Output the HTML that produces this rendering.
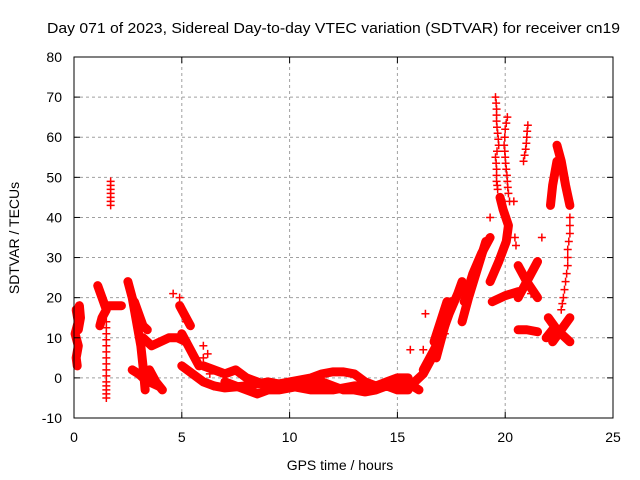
<!DOCTYPE html>
<html><head><meta charset="utf-8"><style>
body{margin:0;background:#fff}
svg{display:block;font-family:"Liberation Sans",sans-serif}
</style></head><body>
<svg id="chart" width="640" height="480" viewBox="0 0 640 480" xmlns="http://www.w3.org/2000/svg">
<rect width="640" height="480" fill="#fff"/>
<text x="47" y="33" font-size="15" textLength="573" lengthAdjust="spacingAndGlyphs">Day 071 of 2023, Sidereal Day-to-day VTEC variation (SDTVAR) for receiver cn19</text>
<text x="340" y="470" font-size="14" text-anchor="middle">GPS time / hours</text>
<text x="0" y="0" font-size="14" text-anchor="middle" transform="translate(19,238) rotate(-90)">SDTVAR / TECUs</text>
<g id="grid"></g><g id="marks"></g><g id="axes"></g>
</svg>
<script>
const xTicks=[0,5,10,15,20,25];
const yTicks=[-10,0,10,20,30,40,50,60,70,80];
const thickTracks=[
[[0.1,17],[0.2,14],[0.05,11],[0.2,8],[0.1,5],[0.15,3]],
[[0.25,18],[0.3,15],[0.2,12]],
[[1.1,23],[1.3,20],[1.5,17],[1.3,15],[1.2,13]],
[[1.6,18],[1.9,18],[2.2,18]],
[[2.5,24],[2.7,20],[2.9,14],[3.1,8],[3.2,3],[3.3,-3]],
[[2.8,19],[3.0,16],[3.2,13],[3.4,12]],
[[2.7,2],[3.0,1],[3.2,0],[3.5,-1],[3.9,-2]],
[[3.2,10],[3.6,8],[4.0,9],[4.4,10],[4.8,10],[5.2,9]],
[[3.5,2],[3.8,-1],[4.1,-3]],
[[4.9,18],[5.1,16],[5.4,13]],
[[5.0,11],[5.3,8],[5.6,5],[5.8,3]],
[[5.0,3],[5.5,1],[6.0,-1],[6.5,-2]],
[[6.0,3],[6.5,2],[7.0,1],[7.5,2],[8.0,0],[8.5,-1],[9,-2],[10,-1],[11,0],[11.5,1],[12,1.5],[12.5,1.5],[13,1],[13.5,-1],[14,-2],[14.5,-1],[15,0],[15.5,0]],
[[7,-1],[7.5,-2],[8,-3],[8.5,-4],[9,-3],[9.5,-3],[10,-2.5],[10.5,-2],[11,-1.5],[11.5,-1],[12,-2],[12.5,-3],[13,-3],[13.5,-3.5],[14,-3],[14.5,-2],[15,-3],[15.5,-3]],
[[6.5,-2],[7,-2.5],[8,-2],[9,-1],[10,-2],[11,-3],[12,-3],[13,-2],[14,-2],[15,-1],[15.7,-2],[16,-3]],
[[15.8,-1],[16.2,1],[16.6,5],[16.8,7]],
[[16.2,2],[16.6,6],[17.0,10],[17.4,16],[17.8,21],[18.0,24]],
[[16.8,5],[17.1,11],[17.5,19]],
[[16.7,9],[17.0,14],[17.3,19]],
[[18.0,14],[18.3,20],[18.7,27],[19.1,34]],
[[18.1,19],[18.5,26],[18.9,31],[19.3,35]],
[[19.4,19],[20.0,20.5],[20.6,21.5]],
[[19.3,24],[19.7,29],[20.05,34],[20.15,38],[19.9,42],[19.76,45]],
[[20.6,28],[21.0,24],[21.5,20]],
[[21.5,29],[21.0,24],[20.6,20]],
[[20.6,12],[21.0,12],[21.5,11.5]],
[[21.9,10],[22.2,12]],
[[22.4,58],[22.6,54],[22.8,48],[23.0,43]],
[[22.4,54],[22.2,48],[22.1,43]],
[[22.0,15],[22.4,12],[23.0,9]],
[[23.0,15],[22.6,12],[22.2,9]]
];
const markerPoints=[
[1.5,14],[1.5,12.5],[1.5,11],[1.5,9.5],[1.5,8],[1.5,6.5],[1.5,5],[1.5,3.5],[1.5,2],[1.5,0.5],[1.5,-1],[1.5,-2],[1.5,-3],[1.5,-4],[1.5,-5],
[1.7,49],[1.7,48],[1.7,47],[1.7,46],[1.7,45],[1.7,44],[1.7,43],
[4.6,21],[4.9,20],[5.2,14],[6.0,8],[6.2,6],[6.0,5],[6.3,1],
[15.6,7],[16.2,7],[16.3,16],[17.2,11],
[19.55,70],[19.58,68.5],[19.6,67],[19.6,65.5],[19.6,64],[19.62,62.5],[19.65,61],[19.68,59.5],[19.7,58],[19.62,56.5],[19.55,55],[19.58,53.5],[19.6,52],[19.6,50.5],[19.6,49],[19.63,48],[19.65,47],
[20.1,65],[20.05,63.5],[20.0,62],[19.98,60],[19.95,58],[19.98,56.5],[20.0,55],[20.02,53.5],[20.05,52],[20.08,50.5],[20.1,49],[20.12,47.5],[20.15,46],[20.2,44],[20.4,44],
[20.45,35],[20.5,33],[19.3,40],[21.7,35],[21.2,21],
[21.05,63],[21.02,61.5],[21.0,60],[20.98,58.5],[20.95,57],[20.9,55.5],[20.85,54],
[23.0,40],[23.0,38],[23.0,36],[22.95,34],[22.9,32],[22.9,30],[22.9,28],[22.85,26],[22.8,24],[22.75,22],[22.7,20],[22.65,18.5],[22.6,17]
];
const X0=74,X1=613,Y0=418,Y1=57,XMIN=0,XMAX=25,YMIN=-10,YMAX=80;
function xs(v){return X0+(v-XMIN)/(XMAX-XMIN)*(X1-X0);}
function ys(v){return Y0-(v-YMIN)/(YMAX-YMIN)*(Y0-Y1);}
const NS="http://www.w3.org/2000/svg";
function mk(t,a,p){const e=document.createElementNS(NS,t);for(const k in a)e.setAttribute(k,a[k]);p.appendChild(e);return e;}
const grid=document.getElementById('grid'),marks=document.getElementById('marks'),axes=document.getElementById('axes');
xTicks.forEach(t=>{const x=xs(t);
 if(t>XMIN&&t<XMAX){const g=mk('line',{x1:x,y1:Y0,x2:x,y2:Y1,stroke:'#a0a0a0','stroke-dasharray':'3,3'},grid);
 
 }
 mk('line',{x1:x,y1:Y0,x2:x,y2:Y0-6,stroke:'#000'},axes);
 mk('line',{x1:x,y1:Y1,x2:x,y2:Y1+6,stroke:'#000'},axes);
 const l=mk('text',{x:x,y:Y0+24,'font-size':14,'text-anchor':'middle'},axes);l.textContent=t;
 
 
});
yTicks.forEach(t=>{const y=ys(t);
 if(t>YMIN&&t<YMAX){const g=mk('line',{x1:X0,y1:y,x2:X1,y2:y,stroke:'#a0a0a0','stroke-dasharray':'3,3'},grid);
 
 }
 mk('line',{x1:X0,y1:y,x2:X0+6,y2:y,stroke:'#000'},axes);
 mk('line',{x1:X1,y1:y,x2:X1-6,y2:y,stroke:'#000'},axes);
 const l=mk('text',{x:X0-12,y:y+5,'font-size':14,'text-anchor':'end'},axes);l.textContent=t;
 
 
});
const fr=mk('rect',{x:X0,y:Y1,width:X1-X0,height:Y0-Y1,fill:'none',stroke:'#000','stroke-width':1},axes);


function plus(v,w){const x=xs(v[0]),y=ys(v[1]);
 const p=mk('path',{d:`M${x-4},${y}H${x+4}M${x},${y-4}V${y+4}`,stroke:'#f00','stroke-width':w},marks);
 
 }
thickTracks.forEach(tr=>{
 const pl=mk('polyline',{points:tr.map(v=>xs(v[0])+','+ys(v[1])).join(' '),fill:'none',stroke:'#f00','stroke-width':9,'stroke-linejoin':'round','stroke-linecap':'round'},marks);
 
 
 tr.forEach(v=>plus(v,2.5));
});
markerPoints.forEach(v=>plus(v,1.5));
</script>
</body></html>
